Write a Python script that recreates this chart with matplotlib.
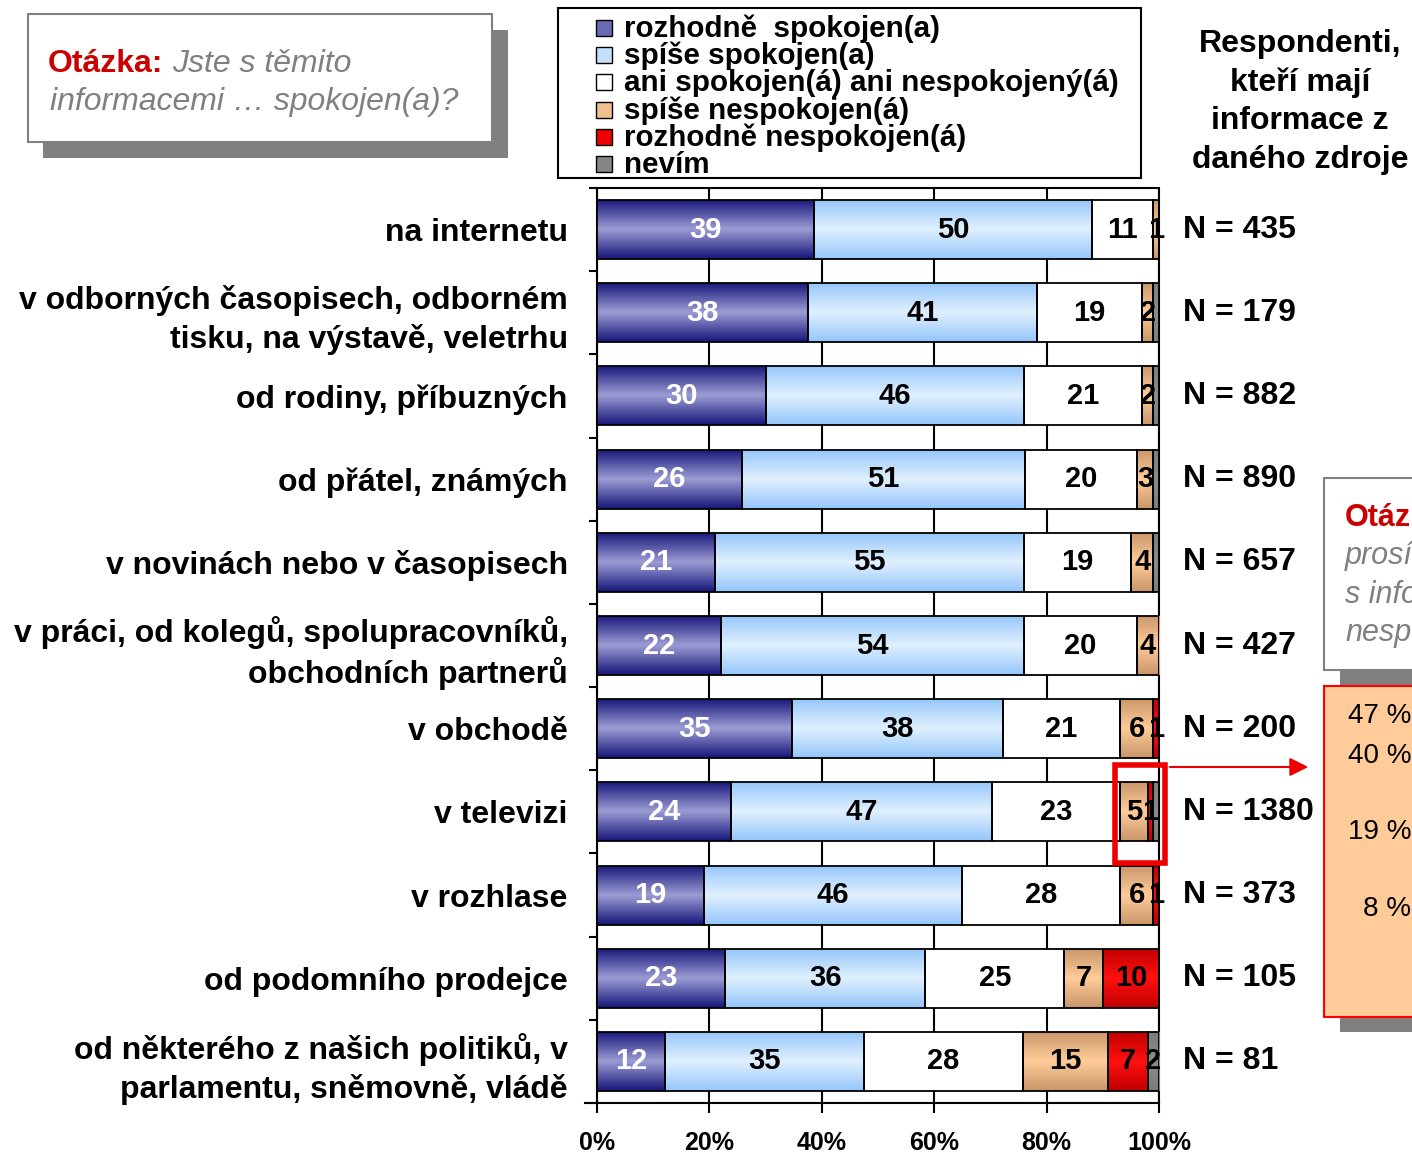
import numpy as np
import matplotlib
matplotlib.use("Agg")
import matplotlib.pyplot as plt
from matplotlib.colors import LinearSegmentedColormap
from matplotlib.patches import Rectangle, FancyArrowPatch

plt.rcParams['font.family'] = ['Liberation Sans', 'DejaVu Sans']

categories = [
    "na internetu",
    "v odborných časopisech, odborném\ntisku, na výstavě, veletrhu",
    "od rodiny, příbuzných",
    "od přátel, známých",
    "v novinách nebo v časopisech",
    "v práci, od kolegů, spolupracovníků,\nobchodních partnerů",
    "v obchodě",
    "v televizi",
    "v rozhlase",
    "od podomního prodejce",
    "od některého z našich politiků, v\nparlamentu, sněmovně, vládě",
]
n_resp = [435, 179, 882, 890, 657, 427, 200, 1380, 373, 105, 81]

series_names = [
    "rozhodně  spokojen(a)",
    "spíše spokojen(a)",
    "ani spokojen(á) ani nespokojený(á)",
    "spíše nespokojen(á)",
    "rozhodně nespokojen(á)",
    "nevím",
]
rozhodne_spok = [39, 38, 30, 26, 21, 22, 35, 24, 19, 23, 12]
spise_spok = [50, 41, 46, 51, 55, 54, 38, 47, 46, 36, 35]
ani_ani = [11, 19, 21, 20, 19, 20, 21, 23, 28, 25, 28]
spise_nesp = [1, 2, 2, 3, 4, 4, 6, 5, 6, 7, 15]
rozhodne_nesp = [0, 0, 0, 0, 0, 0, 1, 1, 1, 10, 7]
nevim = [0, 1, 1, 1, 1, 0, 0, 1, 0, 0, 2]

tick_vals = [0, 20, 40, 60, 80, 100]
box_pcts = ["47 %", "40 %", "19 %", "8 %"]

# (edge colour, middle colour, label colour, legend colour)
styles = [
    ("#16167a", "#9c9cd4", "white", "#6a6ab4"),
    ("#94c6fa", "#e0f0ff", "black", "#c4e0fa"),
    ("#ffffff", "#ffffff", "black", "#ffffff"),
    ("#c8966a", "#ffcc99", "black", "#f0c08e"),
    ("#c00000", "#ff1010", "black", "#ee0000"),
    ("#7c7c7c", "#8c8c8c", "black", "#858585"),
]

W, H = 1412, 1153


def fx(x):
    return x / W


def fy(y):
    return 1 - y / H


fig = plt.figure(figsize=(W / 100, H / 100), dpi=100)
ax = fig.add_axes([fx(597), fy(1103), fx(1159) - fx(597), fy(188) - fy(1103)])

data = np.array([rozhodne_spok, spise_spok, ani_ani, spise_nesp, rozhodne_nesp, nevim], dtype=float)
shares = data / data.sum(axis=0) * 100
y = np.arange(len(categories))
grad = np.linspace(0, 1, 100).reshape(-1, 1)

left = np.zeros(len(categories))
for i, (edge, mid, tcol, _) in enumerate(styles):
    bars = ax.barh(y, shares[i], left=left, height=0.71, color=mid, edgecolor="none", zorder=3)
    cmap = LinearSegmentedColormap.from_list("g%d" % i, [edge, mid, edge])
    for b in bars:
        if b.get_width() <= 0:
            continue
        im = ax.imshow(grad, cmap=cmap, aspect="auto", interpolation="bilinear",
                       extent=(b.get_x(), b.get_x() + b.get_width(),
                               b.get_y() + b.get_height(), b.get_y()), zorder=3.2)
        im.set_clip_path(b)
    ax.barh(y, shares[i], left=left, height=0.71, fill=False, edgecolor="black", lw=1.3, zorder=3.5)
    for j, v in enumerate(data[i]):
        # tiny "nevím" shares are not labelled in the original
        if v > 0 and not (i == 5 and v < 2):
            ax.text(left[j] + shares[i][j] / 2, y[j], "%d" % v, ha="center", va="center",
                    fontsize=21, fontweight="bold", color=tcol, zorder=5)
    left += shares[i]

ax.set_xlim(0, 100)
ax.set_ylim(len(categories) - 0.5, -0.5)
ax.set_xticks(tick_vals)
ax.set_xticklabels(["%d%%" % v for v in tick_vals], fontsize=18, fontweight="bold")
ax.xaxis.grid(True, color="black", lw=1.5)
ax.set_axisbelow(True)
ax.tick_params(axis="x", direction="out", length=7, width=1.5, pad=13)
ax.set_yticks(y)
ax.set_yticklabels(categories, fontsize=23, fontweight="bold", linespacing=1.32)
ax.set_yticks(np.arange(-0.5, len(categories), 1), minor=True)
ax.tick_params(axis="y", which="major", length=0, pad=21)
ax.tick_params(axis="y", which="minor", length=6, width=1.5, direction="out")
for s in ax.spines.values():
    s.set_linewidth(1.5)
    s.set_color("black")
ax.plot([-2.1, 0], [len(categories) - 0.5] * 2, color="black", lw=1.5, clip_on=False)

for j, n in enumerate(n_resp):
    ax.text(1.0427, y[j], "N = %d" % n, transform=ax.get_yaxis_transform(),
            ha="left", va="center", fontsize=23, fontweight="bold")

fig.text(fx(1300), fy(102), "Respondenti,\nkteří mají\ninformace z\ndaného zdroje",
         ha="center", va="center", fontsize=23, fontweight="bold", linespacing=1.36)

# legend drawn by hand (very tight line spacing)
fig.patches.append(Rectangle((fx(558), fy(178)), (1141 - 558) / W, (178 - 8) / H,
                             transform=fig.transFigure, facecolor="white", edgecolor="black", lw=1.5))
leg_y = [29, 56, 83, 111, 138, 165]
for k, name in enumerate(series_names):
    fig.patches.append(Rectangle((fx(596), fy(leg_y[k] + 7)), 16 / W, 16 / H, transform=fig.transFigure,
                                 facecolor=styles[k][3], edgecolor="black", lw=1))
    fig.text(fx(624), fy(leg_y[k]), name, ha="left", va="center", fontsize=21.3, fontweight="bold")

# question box top-left
fig.patches.append(Rectangle((fx(43), fy(158)), (508 - 43) / W, (158 - 30) / H,
                             transform=fig.transFigure, facecolor="#808080", edgecolor="none"))
fig.patches.append(Rectangle((fx(28), fy(142)), (492 - 28) / W, (142 - 14) / H,
                             transform=fig.transFigure, facecolor="white", edgecolor="#808080", lw=1.5))
renderer = fig.canvas.get_renderer()
t1 = fig.text(fx(48), fy(72), "Otázka:", ha="left", va="baseline", fontsize=23,
              fontweight="bold", color="#cc0000")
bb = t1.get_window_extent(renderer)
fig.text((bb.x1 + 9) / W, fy(72), "Jste s těmito", ha="left", va="baseline", fontsize=23,
         style="italic", color="#808080")
fig.text(fx(50), fy(110), "informacemi … spokojen(a)?", ha="left", va="baseline", fontsize=23,
         style="italic", color="#808080")

# cut-off boxes on the right
fig.patches.append(Rectangle((fx(1340), fy(686)), 120 / W, (686 - 494) / H,
                             transform=fig.transFigure, facecolor="#808080", edgecolor="none"))
fig.patches.append(Rectangle((fx(1324), fy(670)), 120 / W, (670 - 478) / H,
                             transform=fig.transFigure, facecolor="white", edgecolor="#808080", lw=1.5))
fig.text(fx(1345), fy(518), "Otázka:", ha="left", va="center", fontsize=22,
         fontweight="bold", color="#cc0000")
for txt, yy in zip(["prosím, jste", "s informacemi", "nespokojen(a)"], [556, 595, 633]):
    fig.text(fx(1345), fy(yy), txt, ha="left", va="center", fontsize=22, style="italic", color="#808080")

fig.patches.append(Rectangle((fx(1340), fy(1032)), 120 / W, (1032 - 702) / H,
                             transform=fig.transFigure, facecolor="#808080", edgecolor="none"))
fig.patches.append(Rectangle((fx(1324), fy(1017)), 120 / W, (1017 - 686) / H,
                             transform=fig.transFigure, facecolor="#ffcc99", edgecolor="#ff0000", lw=1.5))
for txt, yy in zip(box_pcts, [716, 756, 832, 909]):
    fig.text(fx(1411), fy(yy), txt, ha="right", va="center", fontsize=20, color="black")

# highlight + arrow
fig.patches.append(Rectangle((fx(1115), fy(863)), (1165 - 1115) / W, (863 - 765) / H,
                             transform=fig.transFigure, fill=False, edgecolor="#ee0000", lw=4))
fig.patches.append(FancyArrowPatch((fx(1167), fy(767)), (fx(1311), fy(767)), transform=fig.transFigure,
                                   arrowstyle="-|>", mutation_scale=28, color="#ee0000", lw=1.5))

fig.savefig("out.png", dpi=100)
